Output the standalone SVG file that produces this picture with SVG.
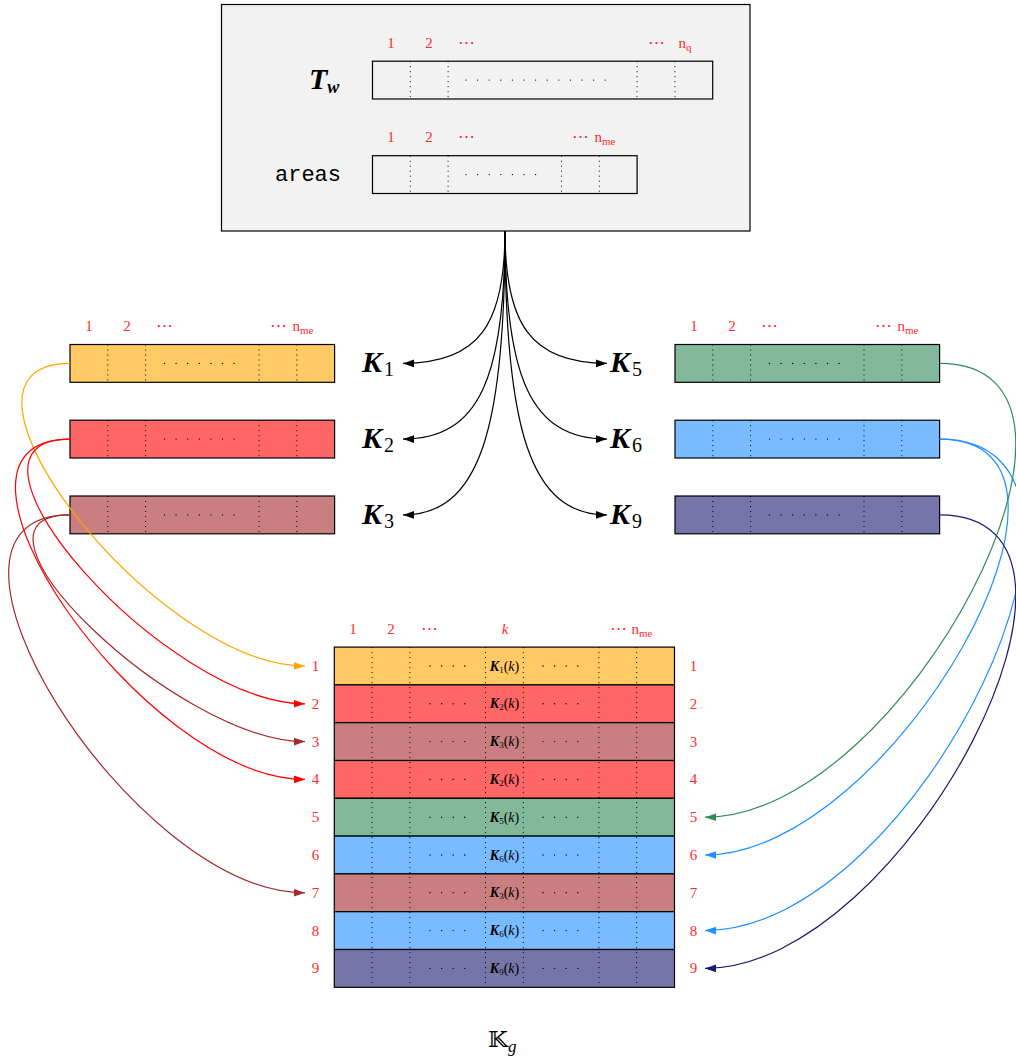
<svg xmlns="http://www.w3.org/2000/svg" width="1016" height="1061" viewBox="0 0 1016 1061">
<defs>
<style>
.box{fill:#f2f2f2;stroke:#000;stroke-width:1.2}
.arr{stroke:#000;stroke-width:1.2}
.plain{fill:none}
.c1{fill:#ffc966}.c2{fill:#ff6666}.c3{fill:#c97f7f}.c5{fill:#82b99a}.c6{fill:#78bcff}.c9{fill:#7575a9}
.vdot{fill:none;stroke:#000;stroke-width:1;stroke-dasharray:1 4}
.hdot{fill:none;stroke:#000;stroke-width:1.4;stroke-linecap:round;stroke-dasharray:0 11.6}
.lbl{font-family:"Liberation Serif","DejaVu Serif",serif;font-size:15px;fill:#ff2b2b;text-anchor:middle}
.dots{font-family:"DejaVu Serif",serif;font-size:17px;fill:#ff2b2b;text-anchor:middle}
.big{font-family:"Liberation Serif","DejaVu Serif",serif;font-size:30px;fill:#000}
.bk{font-weight:bold;font-style:italic}
.sub{font-size:20px;font-weight:normal;font-style:normal}
.cell{font-family:"Liberation Serif","DejaVu Serif",serif;font-size:14px;fill:#000;text-anchor:middle}
.mono{font-family:"Liberation Mono","DejaVu Sans Mono",monospace;font-size:22px;fill:#000}
.con{fill:none;stroke-width:1.2}
</style>
<marker id="mk" markerUnits="userSpaceOnUse" markerWidth="12" markerHeight="10" viewBox="0 0 12 10" refX="11" refY="5" orient="auto"><path d="M0 1.2L11 5L0 8.8z" fill="#000"/></marker>
<marker id="mo" markerUnits="userSpaceOnUse" markerWidth="12" markerHeight="10" viewBox="0 0 12 10" refX="11" refY="5" orient="auto"><path d="M0 1.2L11 5L0 8.8z" fill="#ffa500"/></marker>
<marker id="mr" markerUnits="userSpaceOnUse" markerWidth="12" markerHeight="10" viewBox="0 0 12 10" refX="11" refY="5" orient="auto"><path d="M0 1.2L11 5L0 8.8z" fill="#ff0000"/></marker>
<marker id="mb" markerUnits="userSpaceOnUse" markerWidth="12" markerHeight="10" viewBox="0 0 12 10" refX="11" refY="5" orient="auto"><path d="M0 1.2L11 5L0 8.8z" fill="#a52a2a"/></marker>
<marker id="mg" markerUnits="userSpaceOnUse" markerWidth="12" markerHeight="10" viewBox="0 0 12 10" refX="11" refY="5" orient="auto"><path d="M0 1.2L11 5L0 8.8z" fill="#2e8b57"/></marker>
<marker id="mu" markerUnits="userSpaceOnUse" markerWidth="12" markerHeight="10" viewBox="0 0 12 10" refX="11" refY="5" orient="auto"><path d="M0 1.2L11 5L0 8.8z" fill="#1e90ff"/></marker>
<marker id="mn" markerUnits="userSpaceOnUse" markerWidth="12" markerHeight="10" viewBox="0 0 12 10" refX="11" refY="5" orient="auto"><path d="M0 1.2L11 5L0 8.8z" fill="#191970"/></marker>
</defs>

<g id="top-box">
<rect class="box" x="221.5" y="4.5" width="528.5" height="226.5"/>
<text class="big bk" x="309" y="89">T<tspan font-size="18" dy="4">w</tspan></text>
<text class="lbl" x="391" y="48">1</text>
<text class="lbl" x="429" y="48">2</text>
<text class="dots" x="466" y="48">⋯</text>
<text class="dots" x="656" y="48">⋯</text>
<text class="lbl" x="685" y="48" text-anchor="start">n<tspan font-size="11" dy="3">q</tspan></text>
<rect class="arr plain" x="372.5" y="61.2" width="340.2" height="37.8"/>
<path class="vdot" d="M410.3 61.2v37.8M448.1 61.2v37.8M637.1 61.2v37.8M674.9 61.2v37.8"/>
<path class="hdot" d="M466 80.1H612"/>
<text class="mono" x="275" y="181">areas</text>
<text class="lbl" x="391" y="142">1</text>
<text class="lbl" x="429" y="142">2</text>
<text class="dots" x="466" y="142">⋯</text>
<text class="dots" x="580" y="142">⋯</text>
<text class="lbl" x="605" y="142" text-anchor="start">n<tspan font-size="11" dy="3">me</tspan></text>
<rect class="arr plain" x="372.5" y="155.7" width="264.6" height="37.8"/>
<path class="vdot" d="M410.3 155.7v37.8M448.1 155.7v37.8M561.5 155.7v37.8M599.3 155.7v37.8"/>
<path class="hdot" d="M466 174.6H540"/>
</g>

<g id="left-labels">
<text class="lbl" x="89" y="331">1</text>
<text class="lbl" x="127" y="331">2</text>
<text class="dots" x="164.5" y="331">⋯</text>
<text class="dots" x="278" y="331">⋯</text>
<text class="lbl" x="303" y="331" text-anchor="start">n<tspan font-size="11" dy="3">me</tspan></text>
</g>
<g id="right-labels">
<text class="lbl" x="694" y="331">1</text>
<text class="lbl" x="732" y="331">2</text>
<text class="dots" x="769.5" y="331">⋯</text>
<text class="dots" x="883" y="331">⋯</text>
<text class="lbl" x="908" y="331" text-anchor="start">n<tspan font-size="11" dy="3">me</tspan></text>
</g>

<g id="K1">
<rect class="arr c1" x="70" y="344.5" width="264.6" height="37.8"/>
<path class="vdot" d="M107.8 344.5v37.8M145.6 344.5v37.8M259 344.5v37.8M296.8 344.5v37.8"/>
<path class="hdot" d="M164.5 363.4H238"/>
<text class="big bk" x="362" y="372">K<tspan class="sub" dx="2" dy="4">1</tspan></text>
</g>
<g id="K2">
<rect class="arr c2" x="70" y="420.2" width="264.6" height="37.8"/>
<path class="vdot" d="M107.8 420.2v37.8M145.6 420.2v37.8M259 420.2v37.8M296.8 420.2v37.8"/>
<path class="hdot" d="M164.5 439.1H238"/>
<text class="big bk" x="362" y="448">K<tspan class="sub" dx="2" dy="4">2</tspan></text>
</g>
<g id="K3">
<rect class="arr c3" x="70" y="496" width="264.6" height="37.8"/>
<path class="vdot" d="M107.8 496v37.8M145.6 496v37.8M259 496v37.8M296.8 496v37.8"/>
<path class="hdot" d="M164.5 514.9H238"/>
<text class="big bk" x="362" y="524">K<tspan class="sub" dx="2" dy="4">3</tspan></text>
</g>
<g id="K5">
<rect class="arr c5" x="675" y="344.5" width="264.6" height="37.8"/>
<path class="vdot" d="M712.8 344.5v37.8M750.6 344.5v37.8M864 344.5v37.8M901.8 344.5v37.8"/>
<path class="hdot" d="M769.5 363.4H843"/>
<text class="big bk" x="610" y="372">K<tspan class="sub" dx="2" dy="4">5</tspan></text>
</g>
<g id="K6">
<rect class="arr c6" x="675" y="420.2" width="264.6" height="37.8"/>
<path class="vdot" d="M712.8 420.2v37.8M750.6 420.2v37.8M864 420.2v37.8M901.8 420.2v37.8"/>
<path class="hdot" d="M769.5 439.1H843"/>
<text class="big bk" x="610" y="448">K<tspan class="sub" dx="2" dy="4">6</tspan></text>
</g>
<g id="K9">
<rect class="arr c9" x="675" y="496" width="264.6" height="37.8"/>
<path class="vdot" d="M712.8 496v37.8M750.6 496v37.8M864 496v37.8M901.8 496v37.8"/>
<path class="hdot" d="M769.5 514.9H843"/>
<text class="big bk" x="610" y="524">K<tspan class="sub" dx="2" dy="4">9</tspan></text>
</g>

<g id="Kg">
<text class="lbl" x="353" y="634">1</text>
<text class="lbl" x="391" y="634">2</text>
<text class="dots" x="429" y="634">⋯</text>
<text class="lbl" x="505" y="634" font-style="italic">k</text>
<text class="dots" x="618" y="634">⋯</text>
<text class="lbl" x="642" y="634" text-anchor="start">n<tspan font-size="11" dy="3">me</tspan></text>
<rect class="arr c1" x="334.3" y="647.1" width="340.2" height="37.8"/>
<rect class="arr c2" x="334.3" y="684.9" width="340.2" height="37.8"/>
<rect class="arr c3" x="334.3" y="722.7" width="340.2" height="37.8"/>
<rect class="arr c2" x="334.3" y="760.5" width="340.2" height="37.8"/>
<rect class="arr c5" x="334.3" y="798.3" width="340.2" height="37.8"/>
<rect class="arr c6" x="334.3" y="836.1" width="340.2" height="37.8"/>
<rect class="arr c3" x="334.3" y="873.9" width="340.2" height="37.8"/>
<rect class="arr c6" x="334.3" y="911.7" width="340.2" height="37.8"/>
<rect class="arr c9" x="334.3" y="949.5" width="340.2" height="37.8"/>
<path class="vdot" d="M372.1 647.1V987.3M409.9 647.1V987.3M485.5 647.1V987.3M523.3 647.1V987.3M598.9 647.1V987.3M636.7 647.1V987.3"/>
<path class="hdot" d="M430 666H467M543 666H580M430 703.8H467M543 703.8H580M430 741.6H467M543 741.6H580M430 779.4H467M543 779.4H580M430 817.2H467M543 817.2H580M430 855H467M543 855H580M430 892.8H467M543 892.8H580M430 930.6H467M543 930.6H580M430 968.4H467M543 968.4H580"/>
<text class="cell" x="504.5" y="670.5"><tspan class="bk">K</tspan><tspan font-size="9" dy="2">1</tspan><tspan dy="-2">(</tspan><tspan font-style="italic">k</tspan>)</text>
<text class="cell" x="504.5" y="708.3"><tspan class="bk">K</tspan><tspan font-size="9" dy="2">2</tspan><tspan dy="-2">(</tspan><tspan font-style="italic">k</tspan>)</text>
<text class="cell" x="504.5" y="746.1"><tspan class="bk">K</tspan><tspan font-size="9" dy="2">3</tspan><tspan dy="-2">(</tspan><tspan font-style="italic">k</tspan>)</text>
<text class="cell" x="504.5" y="783.9"><tspan class="bk">K</tspan><tspan font-size="9" dy="2">2</tspan><tspan dy="-2">(</tspan><tspan font-style="italic">k</tspan>)</text>
<text class="cell" x="504.5" y="821.7"><tspan class="bk">K</tspan><tspan font-size="9" dy="2">5</tspan><tspan dy="-2">(</tspan><tspan font-style="italic">k</tspan>)</text>
<text class="cell" x="504.5" y="859.5"><tspan class="bk">K</tspan><tspan font-size="9" dy="2">6</tspan><tspan dy="-2">(</tspan><tspan font-style="italic">k</tspan>)</text>
<text class="cell" x="504.5" y="897.3"><tspan class="bk">K</tspan><tspan font-size="9" dy="2">3</tspan><tspan dy="-2">(</tspan><tspan font-style="italic">k</tspan>)</text>
<text class="cell" x="504.5" y="935.1"><tspan class="bk">K</tspan><tspan font-size="9" dy="2">6</tspan><tspan dy="-2">(</tspan><tspan font-style="italic">k</tspan>)</text>
<text class="cell" x="504.5" y="972.9"><tspan class="bk">K</tspan><tspan font-size="9" dy="2">9</tspan><tspan dy="-2">(</tspan><tspan font-style="italic">k</tspan>)</text>
<g class="lbl">
<text x="315.5" y="671">1</text><text x="315.5" y="708.8">2</text><text x="315.5" y="746.6">3</text><text x="315.5" y="784.4">4</text><text x="315.5" y="822.2">5</text><text x="315.5" y="860">6</text><text x="315.5" y="897.8">7</text><text x="315.5" y="935.6">8</text><text x="315.5" y="973.4">9</text>
<text x="693.5" y="671">1</text><text x="693.5" y="708.8">2</text><text x="693.5" y="746.6">3</text><text x="693.5" y="784.4">4</text><text x="693.5" y="822.2">5</text><text x="693.5" y="860">6</text><text x="693.5" y="897.8">7</text><text x="693.5" y="935.6">8</text><text x="693.5" y="973.4">9</text>
</g>
<text x="488" y="1047" font-family="DejaVu Serif,DejaVu Sans,serif" font-size="23" fill="#000">𝕂<tspan font-family="Liberation Serif,serif" font-style="italic" font-size="17" dy="5">g</tspan></text>
</g>

<g id="connectors">
<g stroke="#000" class="con" marker-end="url(#mk)">
<path d="M505 231C505 323.7 479.5 363.4 403 363.4"/>
<path d="M505 231C505 376.7 479.5 439.1 403 439.1"/>
<path d="M505 231C505 429.7 479.5 514.9 403 514.9"/>
<path d="M505 231C505 323.7 530.5 363.4 607 363.4"/>
<path d="M505 231C505 376.7 530.5 439.1 607 439.1"/>
<path d="M505 231C505 429.7 530.5 514.9 607 514.9"/>
</g>
<path class="con" stroke="#ffa500" marker-end="url(#mo)" d="M70 363.4C-80 363.4 155 666 305 666"/>
<path class="con" stroke="#ff0000" marker-end="url(#mr)" d="M70 439.1C-68.6 439.1 166.4 703.8 305 703.8"/>
<path class="con" stroke="#ff0000" marker-end="url(#mr)" d="M70 439.1C-92 439.1 143 779.4 305 779.4"/>
<path class="con" stroke="#a52a2a" marker-end="url(#mb)" d="M70 514.9C-57.9 514.9 177.1 741.6 305 741.6"/>
<path class="con" stroke="#a52a2a" marker-end="url(#mb)" d="M70 514.9C-104.3 514.9 130.7 892.8 305 892.8"/>
<path class="con" stroke="#2e8b57" marker-end="url(#mg)" d="M939.6 363.4C1139.6 363.4 905 817.2 705 817.2"/>
<path class="con" stroke="#1e90ff" marker-end="url(#mu)" d="M939.6 439.1C1126.6 439.1 892 855 705 855"/>
<path class="con" stroke="#1e90ff" marker-end="url(#mu)" d="M939.6 439.1C1152.9 439.1 918.3 930.6 705 930.6"/>
<path class="con" stroke="#191970" marker-end="url(#mn)" d="M939.6 514.9C1139.6 514.9 905 968.4 705 968.4"/>
</g>
</svg>
